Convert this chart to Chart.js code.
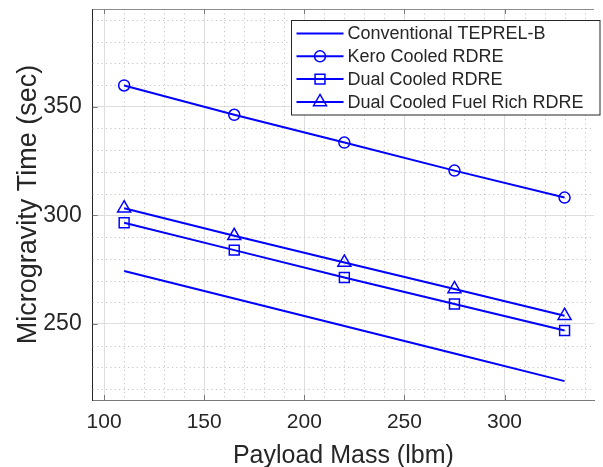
<!DOCTYPE html>
<html>
<head>
<meta charset="utf-8">
<script src="https://cdn.jsdelivr.net/npm/chart.js@4"></script>
<style>
  html, body { margin: 0; padding: 0; background: #fff; overflow: hidden; }
  #wrap { width: 603px; height: 467px; }
</style>
</head>
<body>
<div id="wrap"><canvas id="myChart"></canvas></div>
<script>
// data
var payload = [110, 165, 220, 275, 330];
var conventional = [274.4, 261.7, 249.1, 236.4, 223.7];
var keroCooled = [359.8, 346.3, 333.5, 320.6, 308.2];
var dualCooled = [296.6, 284.0, 271.4, 259.2, 247.0];
var dualFuelRich = [303.3, 290.6, 278.3, 266.1, 253.8];

var xTicks = [100, 150, 200, 250, 300];
var yTicks = [250, 300, 350];

var seriesNames = ["Conventional TEPREL-B", "Kero Cooled RDRE", "Dual Cooled RDRE", "Dual Cooled Fuel Rich RDRE"];

var blue = "#0000ff";
var textColor = "#262626";
var fontFam = "'Liberation Sans', Arial, sans-serif";

function pts(ys) {
  return payload.map(function (x, i) { return { x: x, y: ys[i] }; });
}

function serie(label, ys, style, radius) {
  return {
    label: label,
    data: pts(ys),
    borderColor: blue,
    backgroundColor: blue,
    borderWidth: 2,
    pointStyle: style,
    pointRadius: style ? radius : 0,
    pointBorderWidth: 1.5,
    pointBorderColor: blue,
    pointBackgroundColor: "rgba(0,0,0,0)",
    fill: false,
    tension: 0
  };
}

// minor grid, box top, inward ticks, legend
var matlabAxes = {
  id: "matlabAxes",
  beforeDatasetsDraw: function (chart) {
    var ctx = chart.ctx, a = chart.chartArea;
    var xs = chart.scales.x, ys = chart.scales.y;
    ctx.save();
    ctx.strokeStyle = "#c4c4c4";
    ctx.lineWidth = 1;
    ctx.setLineDash([1.2, 3.2]);
    for (var v = 110; v <= 340; v += 10) {
      if (v % 50 === 0) continue;
      var px = Math.round(xs.getPixelForValue(v)) + 0.5;
      ctx.beginPath(); ctx.moveTo(px, a.top); ctx.lineTo(px, a.bottom); ctx.stroke();
    }
    for (var w = 220; w <= 390; w += 10) {
      if (w % 50 === 0) continue;
      var py = Math.round(ys.getPixelForValue(w)) + 0.5;
      ctx.beginPath(); ctx.moveTo(a.left, py); ctx.lineTo(a.right, py); ctx.stroke();
    }
    ctx.restore();
  },
  afterDatasetsDraw: function (chart) {
    var ctx = chart.ctx, a = chart.chartArea;
    var xs = chart.scales.x, ys = chart.scales.y;
    ctx.save();
    ctx.setLineDash([]);
    ctx.lineWidth = 1;
    // top edge of the box
    ctx.strokeStyle = "#8c8c8c";
    ctx.beginPath(); ctx.moveTo(a.left, a.top + 0.5); ctx.lineTo(a.right, a.top + 0.5); ctx.stroke();
    // inward ticks
    ctx.strokeStyle = "#7a7a7a";
    xTicks.forEach(function (t) {
      var px = Math.round(xs.getPixelForValue(t)) + 0.5;
      ctx.beginPath(); ctx.moveTo(px, a.top); ctx.lineTo(px, a.top + 5); ctx.stroke();
      ctx.beginPath(); ctx.moveTo(px, a.bottom); ctx.lineTo(px, a.bottom - 5); ctx.stroke();
    });
    yTicks.forEach(function (t) {
      var py = Math.round(ys.getPixelForValue(t)) + 0.5;
      ctx.beginPath(); ctx.moveTo(a.left, py); ctx.lineTo(a.left + 5, py); ctx.stroke();
    });
    ctx.restore();
  },
  afterDraw: function (chart) {
    var ctx = chart.ctx;
    var box = { x: 291.5, y: 20.5, w: 308.5, h: 94.5 };
    ctx.save();
    ctx.fillStyle = "#fff";
    ctx.fillRect(box.x, box.y, box.w, box.h);
    ctx.strokeStyle = textColor;
    ctx.lineWidth = 1;
    ctx.strokeRect(box.x, box.y, box.w, box.h);
    ctx.font = "18px " + fontFam;
    ctx.textBaseline = "middle";
    ctx.textAlign = "left";
    chart.data.datasets.forEach(function (ds, i) {
      var cy = 33.5 + i * 22.8;
      ctx.strokeStyle = blue;
      ctx.lineWidth = 2;
      ctx.beginPath(); ctx.moveTo(296.5, cy); ctx.lineTo(343.5, cy); ctx.stroke();
      if (ds.pointStyle) {
        ctx.fillStyle = "rgba(0,0,0,0)";
        ctx.strokeStyle = blue;
        ctx.lineWidth = 1.5;
        Chart.helpers.drawPoint(ctx, {
          pointStyle: ds.pointStyle,
          rotation: 0,
          borderWidth: 1.5,
          radius: ds.pointRadius
        }, 320, cy);
      }
      ctx.fillStyle = textColor;
      ctx.fillText(ds.label, 347.5, cy + 1);
    });
    ctx.restore();
  }
};

function setTicks(list) {
  return function (s) { s.ticks = list.map(function (v) { return { value: v }; }); };
}

var config = {
  type: "line",
  data: {
    datasets: [
      serie(seriesNames[0], conventional, false, 0),
      serie(seriesNames[1], keroCooled, "circle", 5.5),
      serie(seriesNames[2], dualCooled, "rect", 7),
      serie(seriesNames[3], dualFuelRich, "triangle", 7.5)
    ]
  },
  options: {
    responsive: true,
    maintainAspectRatio: false,
    animation: false,
    layout: { padding: { top: 7, right: 0, left: 0, bottom: 0 } },
    plugins: { legend: { display: false }, tooltip: { enabled: false } },
    scales: {
      x: {
        type: "linear",
        min: 94.3,
        max: 344.7,
        afterBuildTicks: setTicks(xTicks),
        afterFit: function (s) {
          s.height = 67;
          s.paddingLeft = 0; s.paddingRight = 0;
        },
        ticks: {
          autoSkip: false,
          maxRotation: 0,
          padding: 10,
          color: textColor,
          font: { family: fontFam, size: 21 }
        },
        grid: { drawTicks: false, color: "#dedede" },
        border: { display: true, color: "#7a7a7a", width: 1 },
        title: {
          display: true,
          text: "Payload Mass (lbm)",
          color: textColor,
          font: { family: fontFam, size: 25, lineHeight: 1 },
          padding: { top: 0, bottom: -2 }
        }
      },
      y: {
        type: "linear",
        min: 215,
        max: 395,
        afterBuildTicks: setTicks(yTicks),
        afterFit: function (s) {
          s.width = 92.7;
          s.paddingTop = 0; s.paddingBottom = 0;
        },
        ticks: {
          autoSkip: false,
          padding: 11,
          color: textColor,
          font: { family: fontFam, size: 23 }
        },
        grid: { drawTicks: false, color: "#dedede" },
        border: { display: true, color: textColor, width: 1 },
        title: {
          display: true,
          text: "Microgravity Time (sec)",
          color: textColor,
          font: { family: fontFam, size: 27, lineHeight: 1 },
          padding: { top: 15, bottom: 0 }
        }
      }
    }
  },
  plugins: [matlabAxes]
};

const myChart = new Chart(document.getElementById("myChart"), config);
</script>
</body>
</html>
